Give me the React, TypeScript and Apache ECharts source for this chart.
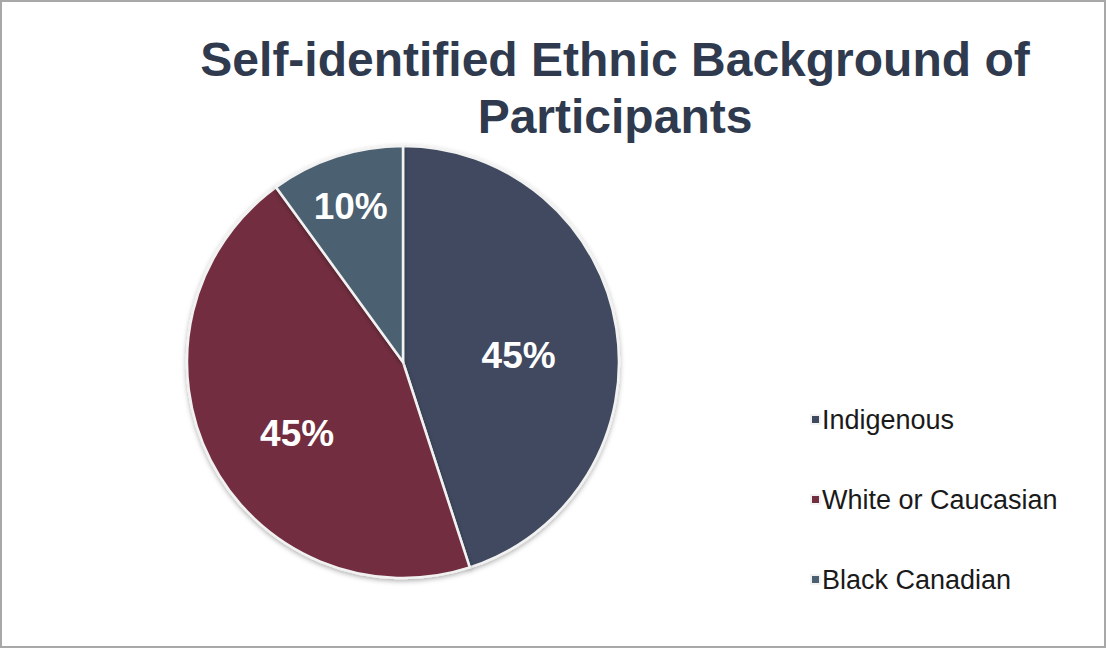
import React, { useEffect, useRef } from "react";
import * as echarts from "echarts";

const titleLines = ["Self-identified Ethnic Background of", "Participants"];
const categories = ["Indigenous", "White or Caucasian", "Black Canadian"];
const values = [45, 45, 10];
const colors = ["#3f4a5e", "#722f40", "#4b6070"];
const labelOffsets: [number, number][] = [[6, 11], [-7, 21], [-18, -50]];

export default function App() {
  const ref = useRef<HTMLDivElement>(null);
  useEffect(() => {
    const chart = echarts.init(ref.current!, null, { renderer: "svg" });
    chart.setOption({
      animation: false,
      backgroundColor: "#ffffff",
      title: {
        text: titleLines.join("\n"),
        left: 610,
        textAlign: "center",
        top: 26,
        textStyle: {
          fontFamily: "Liberation Sans, Arial, sans-serif",
          fontWeight: "bold",
          fontSize: 48,
          lineHeight: 57,
          color: "#2f3a4e",
        },
      },
      legend: {
        orient: "vertical",
        left: 805,
        top: 401,
        icon: "rect",
        itemWidth: 9,
        itemHeight: 9,
        itemGap: 53,
        textStyle: {
          fontFamily: "Liberation Sans, Arial, sans-serif",
          fontSize: 27,
          color: "#1a1a1a",
          padding: [0, 0, 0, -3],
        },
        data: categories,
      },
      graphic: [
        {
          type: "rect",
          shape: { x: 1, y: 1, width: 1104, height: 646 },
          style: { fill: "none", stroke: "#a8a8a8", lineWidth: 2 },
          silent: true,
        },
      ],
      series: [
        {
          type: "pie",
          center: [403, 362],
          radius: [0, 216],
          startAngle: 90,
          clockwise: true,
          itemStyle: {
            borderColor: "#f2f2f2",
            borderWidth: 2.5,
            shadowBlur: 5,
            shadowOffsetY: 2,
            shadowColor: "rgba(0,0,0,0.3)",
          },
          label: {
            show: true,
            position: "inside",
            formatter: "{c}%",
            fontFamily: "Liberation Sans, Arial, sans-serif",
            fontWeight: "bold",
            fontSize: 37,
            color: "#ffffff",
          },
          labelLine: { show: false },
          data: categories.map((name, i) => ({
            name,
            value: values[i],
            itemStyle: { color: colors[i] },
            label: { offset: labelOffsets[i] },
          })),
        },
      ],
    });
    return () => chart.dispose();
  }, []);
  return (
    <div
      ref={ref}
      style={{ position: "fixed", left: 0, top: 0, width: 1106, height: 649 }}
    />
  );
}
